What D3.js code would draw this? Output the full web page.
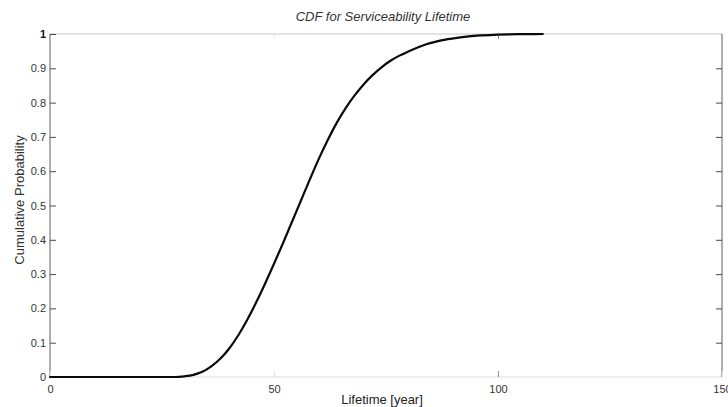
<!DOCTYPE html>
<html>
<head>
<meta charset="utf-8">
<script src="https://cdn.jsdelivr.net/npm/d3@7"></script>
<style>
  html, body { margin: 0; padding: 0; background: #fff; }
  svg { display: block; font-family: "Liberation Sans", Arial, sans-serif; }
</style>
</head>
<body>
<svg id="chart" width="728" height="407"></svg>
<script>
// Cumulative probability of serviceability lifetime (years)
const years = [0, 28, 30, 32, 34, 36, 38, 40, 42, 44, 46, 48, 50, 52, 54, 56, 58, 60,
               62, 64, 66, 68, 70, 72, 74, 76, 78, 80, 84, 88, 92, 96, 100, 105, 110];
const cumProb = [0, 0, 0.002, 0.006, 0.015, 0.031, 0.053, 0.083, 0.121, 0.166, 0.217, 0.272,
                 0.330, 0.390, 0.452, 0.514, 0.576, 0.636, 0.691, 0.741, 0.784, 0.821, 0.853,
                 0.880, 0.903, 0.922, 0.937, 0.949, 0.970, 0.983, 0.991, 0.996, 0.998, 0.9995, 1.0];
const xTicks = [0, 50, 100, 150];
const yTicks = [0, 0.1, 0.2, 0.3, 0.4, 0.5, 0.6, 0.7, 0.8, 0.9, 1];

const titleText = "CDF for Serviceability Lifetime";
const xLabel = "Lifetime [year]";
const yLabel = "Cumulative Probability";

const svg = d3.select("#chart");
const margin = { left: 50, right: 6, top: 34, bottom: 30 };
const W = 728, H = 407;
const x = d3.scaleLinear().domain([0, 150]).range([margin.left, W - margin.right]);
const y = d3.scaleLinear().domain([0, 1]).range([H - margin.bottom, margin.top]);

const x0 = x.range()[0], x1 = x.range()[1];
const yb = y.range()[0], yt = y.range()[1];

// plot frame
svg.append("line").attr("x1", x0).attr("x2", x1).attr("y1", yt).attr("y2", yt)
  .attr("stroke", "#c4c4c4").attr("stroke-width", 1);
svg.append("line").attr("x1", x0).attr("x2", x1).attr("y1", yb).attr("y2", yb)
  .attr("stroke", "#dcdcdc").attr("stroke-width", 1);
svg.append("line").attr("x1", x0).attr("x2", x0).attr("y1", yt).attr("y2", yb)
  .attr("stroke", "#5a5a5a").attr("stroke-width", 1);
svg.append("line").attr("x1", x1).attr("x2", x1).attr("y1", yt).attr("y2", yb)
  .attr("stroke", "#5a5a5a").attr("stroke-width", 1);

// y axis (left, ticks pointing inward)
const yAxisL = svg.append("g").attr("transform", `translate(${x0},0)`)
  .call(d3.axisLeft(y).tickValues(yTicks).tickSize(-6).tickPadding(4)
    .tickFormat(d => d3.format("~g")(d)));
yAxisL.select(".domain").remove();
yAxisL.selectAll(".tick line").attr("stroke", "#4a4a4a");
yAxisL.selectAll(".tick text").attr("font-size", 11).attr("fill", "#333")
  .attr("font-family", "Liberation Sans, Arial, sans-serif");
yAxisL.selectAll(".tick").filter(d => d === 1).select("text")
  .attr("fill", "#111").attr("font-weight", "bold");

// y axis (right, mirrored ticks)
const yAxisR = svg.append("g").attr("transform", `translate(${x1},0)`)
  .call(d3.axisRight(y).tickValues(yTicks.filter(v => v > 0 && v < 1)).tickSize(-6).tickFormat(""));
yAxisR.select(".domain").remove();
yAxisR.selectAll(".tick line").attr("stroke", "#4a4a4a");

// x axis (bottom)
const xAxisB = svg.append("g").attr("transform", `translate(0,${yb})`)
  .call(d3.axisBottom(x).tickValues(xTicks).tickSize(-6).tickPadding(8).tickFormat(d3.format("d")));
xAxisB.select(".domain").remove();
xAxisB.selectAll(".tick line").attr("stroke", d => (d === 100 ? "#999" : "#e4e4e4"));
xAxisB.selectAll(".tick text").attr("font-size", 11).attr("fill", "#333")
  .attr("font-family", "Liberation Sans, Arial, sans-serif");

// x axis (top, mirrored ticks)
const xAxisT = svg.append("g").attr("transform", `translate(0,${yt})`)
  .call(d3.axisTop(x).tickValues([50, 100]).tickSize(-5).tickFormat(""));
xAxisT.select(".domain").remove();
xAxisT.selectAll(".tick line").attr("stroke", d => (d === 100 ? "#888" : "#e8e8e8"));

// CDF curve
const pts = years.map((v, i) => [v, cumProb[i]]);
const line = d3.line().x(d => x(d[0])).y(d => y(d[1])).curve(d3.curveMonotoneX);
svg.append("path").datum(pts).attr("d", line)
  .attr("fill", "none").attr("stroke", "#0a0a0a").attr("stroke-width", 2.2)
  .attr("stroke-linejoin", "round").attr("stroke-linecap", "round");

// title and axis labels
svg.append("text").attr("x", 383).attr("y", 21).attr("text-anchor", "middle")
  .attr("font-size", 13).attr("font-style", "italic").attr("fill", "#333").text(titleText);
svg.append("text").attr("x", 382).attr("y", 404).attr("text-anchor", "middle")
  .attr("font-size", 13).attr("fill", "#222").text(xLabel);
svg.append("text").attr("transform", "translate(24,200) rotate(-90)").attr("text-anchor", "middle")
  .attr("font-size", 13).attr("fill", "#333").text(yLabel);
</script>
</body>
</html>
